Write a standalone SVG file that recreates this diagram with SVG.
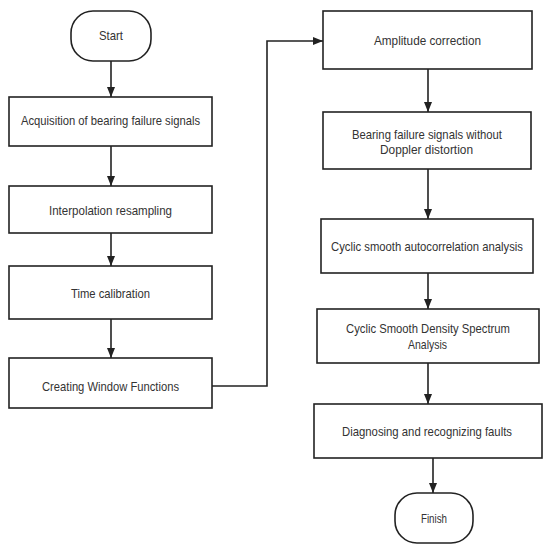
<svg xmlns="http://www.w3.org/2000/svg" width="550" height="550" viewBox="0 0 550 550">
<style>
.box{fill:#fff;stroke:#222;stroke-width:1.6}
.t{font-family:"Liberation Sans",Arial,sans-serif;font-size:13px;fill:#333;text-anchor:middle}
.c{fill:none;stroke:#222;stroke-width:1.6}
</style>
<defs>
<marker id="ah" markerWidth="10" markerHeight="8" refX="10" refY="4" orient="auto" markerUnits="userSpaceOnUse">
<path d="M0,0 L10,4 L0,8 Z" fill="#222"/>
</marker>
</defs>
<rect width="550" height="550" fill="#fff"/>
<g id="connectors">
<path class="c" d="M111,61 V97" marker-end="url(#ah)"/>
<path class="c" d="M111,146 V186" marker-end="url(#ah)"/>
<path class="c" d="M111,233 V266" marker-end="url(#ah)"/>
<path class="c" d="M111,319 V358" marker-end="url(#ah)"/>
<path class="c" d="M212,386 H267 V41 H323" marker-end="url(#ah)"/>
<path class="c" d="M428,69 V112" marker-end="url(#ah)"/>
<path class="c" d="M428,169 V219" marker-end="url(#ah)"/>
<path class="c" d="M428,273 V309" marker-end="url(#ah)"/>
<path class="c" d="M428,363 V404" marker-end="url(#ah)"/>
<path class="c" d="M433,458 V493" marker-end="url(#ah)"/>
</g>
<g id="start"><rect class="box" x="71" y="11" width="80" height="50" rx="22" ry="22"/><text class="t" x="111" y="40" textLength="24" lengthAdjust="spacingAndGlyphs">Start</text></g>
<g id="acquisition"><rect class="box" x="9" y="97" width="203" height="49"/><text class="t" x="110.5" y="125" textLength="179" lengthAdjust="spacingAndGlyphs">Acquisition of bearing failure signals</text></g>
<g id="interpolation"><rect class="box" x="9" y="186" width="203" height="47"/><text class="t" x="110.5" y="215" textLength="123" lengthAdjust="spacingAndGlyphs">Interpolation resampling</text></g>
<g id="time"><rect class="box" x="9" y="266" width="203" height="53"/><text class="t" x="110.5" y="298" textLength="79" lengthAdjust="spacingAndGlyphs">Time calibration</text></g>
<g id="window"><rect class="box" x="9" y="358" width="203" height="50"/><text class="t" x="110.5" y="391" textLength="137" lengthAdjust="spacingAndGlyphs">Creating Window Functions</text></g>
<g id="amplitude"><rect class="box" x="323" y="11" width="209" height="58"/><text class="t" x="427.5" y="45" textLength="107" lengthAdjust="spacingAndGlyphs">Amplitude correction</text></g>
<g id="bearing"><rect class="box" x="323" y="112" width="208" height="57"/><text class="t" x="427" y="139" textLength="150" lengthAdjust="spacingAndGlyphs">Bearing failure signals without</text><text class="t" x="426.5" y="154" textLength="93" lengthAdjust="spacingAndGlyphs">Doppler distortion</text></g>
<g id="autocorr"><rect class="box" x="321" y="219" width="212" height="54"/><text class="t" x="427" y="251" textLength="192" lengthAdjust="spacingAndGlyphs">Cyclic smooth autocorrelation analysis</text></g>
<g id="csd"><rect class="box" x="317" y="309" width="222" height="54"/><text class="t" x="428" y="333" textLength="164" lengthAdjust="spacingAndGlyphs">Cyclic Smooth Density Spectrum</text><text class="t" x="427.5" y="349" textLength="39" lengthAdjust="spacingAndGlyphs">Analysis</text></g>
<g id="diagnosing"><rect class="box" x="314" y="404" width="228" height="54"/><text class="t" x="427" y="436" textLength="170" lengthAdjust="spacingAndGlyphs">Diagnosing and recognizing faults</text></g>
<g id="finish"><rect class="box" x="395" y="493" width="78" height="50" rx="22" ry="22"/><text class="t" x="434" y="523" textLength="26" lengthAdjust="spacingAndGlyphs">Finish</text></g>
</svg>
